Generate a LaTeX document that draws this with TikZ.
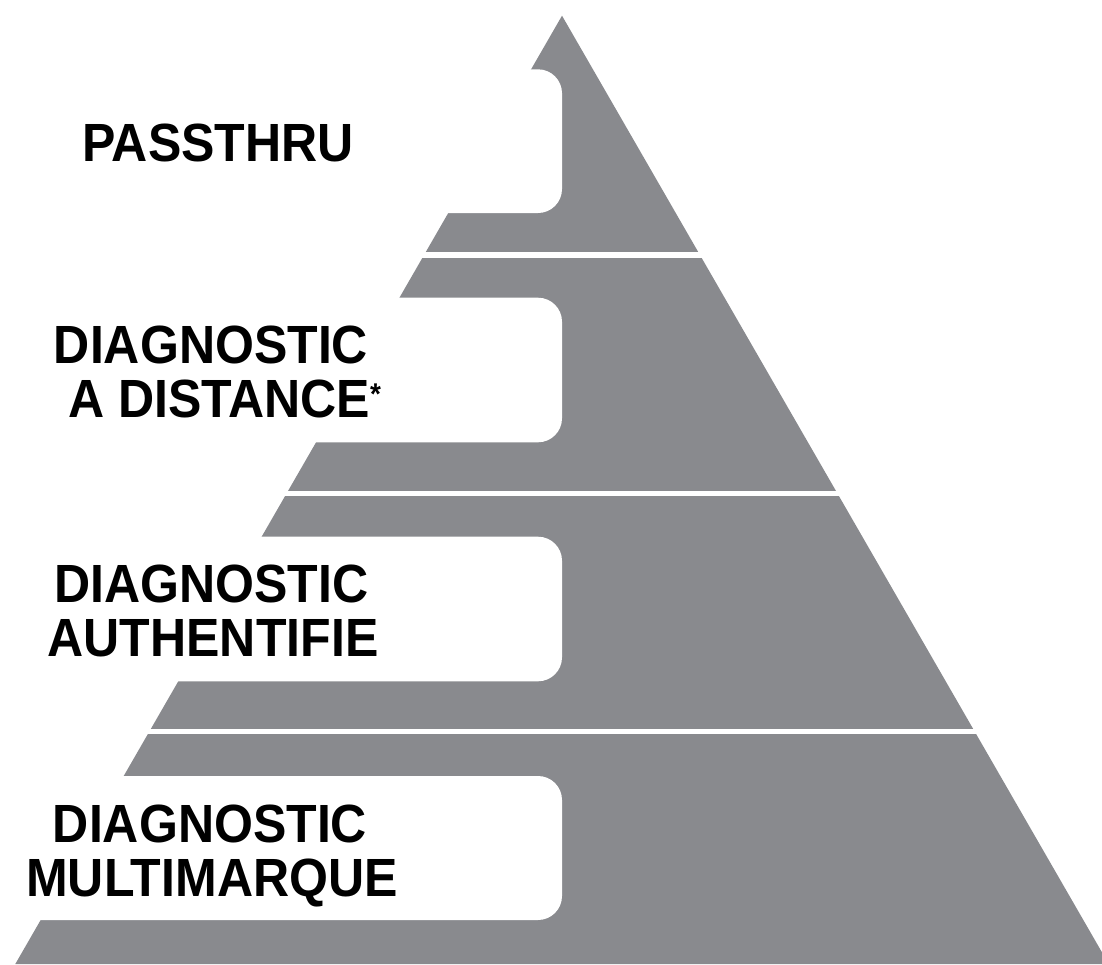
\documentclass[tikz,border=0pt]{standalone}
\usepackage{fontspec}
\usepackage{xcolor}
\usepackage{tikz}
\usetikzlibrary{positioning}
\newfontfamily\tierfont{Liberation Sans}[FakeStretch=0.93]
\definecolor{pyrgray}{RGB}{137,138,142}
\tikzset{tierlabel/.style={font=\tierfont\bfseries\fontsize{53.8}{54}\selectfont, inner sep=0pt, anchor=base}}
\newcommand{\smallstar}{\raisebox{13pt}{\fontsize{30}{30}\selectfont *}}

\begin{document}
\begin{tikzpicture}[x=1pt,y=-1pt]
  \useasboundingbox (0,0) rectangle (1102,964);
  \clip (0,0) rectangle (1102,964);
  % Pyramid body in grey
  \fill[pyrgray] (562,15.7) -- (1108.7,964) -- (15.3,964) -- cycle;
  % White gaps between the tiers
  \foreach \ytop/\ybot in {252.3/257.7, 490.7/496, 728.5/734} {
    \fill[white] (0,\ytop) rectangle (1102,\ybot);
  }
  % Rounded white cut-outs for the labels
  \foreach \ytop/\ybot in {69.3/213, 297.7/442.3, 536.7/681.3, 776/920} {
    \fill[white, rounded corners=24pt] (-60,\ytop) rectangle (562,\ybot);
  }
  % Tier labels, top to bottom
  \node[tierlabel] (passthru) at (218,161.7) {PASSTHRU};
  \node[tierlabel] (distA) at (211,363.3) {DIAGNOSTIC};
  \node[tierlabel] (distB) at (224.5,417.3) {A DISTANCE\smallstar};
  \node[tierlabel] (authA) at (211.5,602.7) {DIAGNOSTIC};
  \node[tierlabel] (authB) at (213,656.7) {AUTHENTIFIE};
  \node[tierlabel] (multiA) at (210,842) {DIAGNOSTIC};
  \node[tierlabel] (multiB) at (212,896) {MULTIMARQUE};
\end{tikzpicture}
\end{document}
